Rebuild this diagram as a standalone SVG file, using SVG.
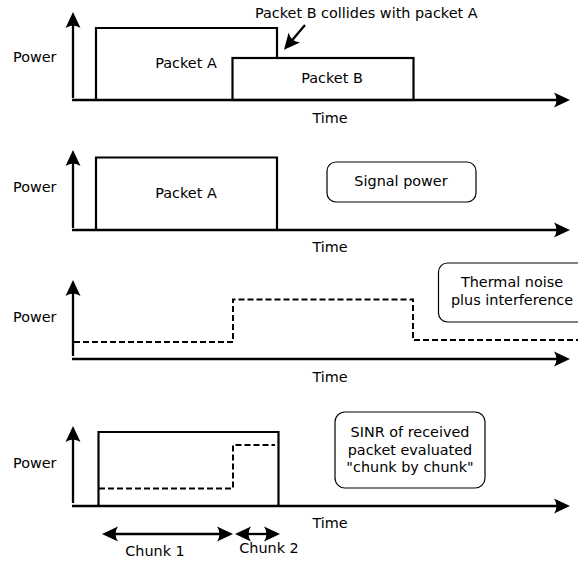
<svg xmlns="http://www.w3.org/2000/svg" width="578" height="561" viewBox="0 0 578 561">
<style>
text{font-family:"DejaVu Sans","Liberation Sans",sans-serif;font-size:14.4px;fill:#000}
.m{text-anchor:middle}
.ax{stroke:#000;stroke-width:2.3;fill:none}
.sq{stroke:#000;stroke-width:2.2;fill:none}
.dash{stroke:#000;stroke-width:2;fill:none;stroke-dasharray:6,3}
.box{stroke:#000;stroke-width:1.2;fill:#fff}
</style>
<defs>
<marker id="ah" viewBox="-17 -8 19 16" refX="-7" refY="0" markerWidth="19" markerHeight="16" markerUnits="userSpaceOnUse" orient="auto-start-reverse">
<path d="M0,0 L-16,-7.5 Q-11,0 -16,7.5 Z" fill="#000"/>
</marker>
</defs>

<g id="axes">
<line class="ax" x1="73" y1="98" x2="73" y2="19" marker-end="url(#ah)"/>
<line class="ax" x1="72" y1="100" x2="563" y2="100" marker-end="url(#ah)"/>
<line class="ax" x1="73" y1="228" x2="73" y2="157" marker-end="url(#ah)"/>
<line class="ax" x1="72" y1="230" x2="563" y2="230" marker-end="url(#ah)"/>
<line class="ax" x1="73" y1="356" x2="73" y2="287" marker-end="url(#ah)"/>
<line class="ax" x1="72" y1="359" x2="563" y2="359" marker-end="url(#ah)"/>
<line class="ax" x1="73" y1="503" x2="73" y2="433" marker-end="url(#ah)"/>
<line class="ax" x1="72" y1="506" x2="563" y2="506" marker-end="url(#ah)"/>
</g>

<g id="labels">
<text x="13" y="62">Power</text>
<text x="13" y="192">Power</text>
<text x="13" y="322">Power</text>
<text x="13" y="468">Power</text>
<text class="m" x="330" y="123">Time</text>
<text class="m" x="330" y="252">Time</text>
<text class="m" x="330" y="382">Time</text>
<text class="m" x="330" y="528">Time</text>
</g>

<g id="panel1">
<path class="sq" d="M96,100 V28 H277 V58"/>
<rect class="sq" x="232.5" y="58" width="181" height="42" fill="#fff"/>
<text class="m" x="186" y="68">Packet A</text>
<text class="m" x="332" y="83">Packet B</text>
<text x="255" y="18">Packet B collides with packet A</text>
</g>

<g id="panel2">
<path class="sq" d="M96,230 V157.5 H277 V230"/>
<text class="m" x="186" y="198">Packet A</text>
<g id="signal-power">
<rect class="box" x="327" y="162" width="149" height="40" rx="9"/>
<text class="m" x="401" y="186">Signal power</text>
</g>
</g>

<g id="panel3">
<path class="dash" d="M74,342 H233 V299.5 H413 V340 H578"/>
<g id="thermal-noise">
<rect class="box" x="438.5" y="263" width="160" height="59" rx="9"/>
<text class="m" x="512" y="287">Thermal noise</text>
<text class="m" x="512" y="305">plus interference</text>
</g>
</g>

<g id="panel4">
<path class="sq" d="M98.5,506 V432 H278.5 V506" stroke-width="2.5"/>
<path class="dash" d="M99,488.5 H233 V445 H275"/>
<g id="sinr">
<rect class="box" x="335" y="412" width="150" height="76" rx="10"/>
<text class="m" x="410" y="437">SINR of received</text>
<text class="m" x="410" y="455">packet evaluated</text>
<text class="m" x="410" y="472">"chunk by chunk"</text>
</g>
<text class="m" x="155" y="556">Chunk 1</text>
<text class="m" x="269" y="553">Chunk 2</text>
</g>

<g id="connectors">
<line class="ax" x1="305" y1="25" x2="288.5" y2="44.5" stroke-width="2.2" marker-end="url(#ah)"/>
<line class="ax" x1="109" y1="534" x2="226" y2="534" stroke-width="2.2" marker-start="url(#ah)" marker-end="url(#ah)"/>
<line class="ax" x1="242" y1="534" x2="273" y2="534" stroke-width="2.2" marker-start="url(#ah)" marker-end="url(#ah)"/>
</g>
</svg>
